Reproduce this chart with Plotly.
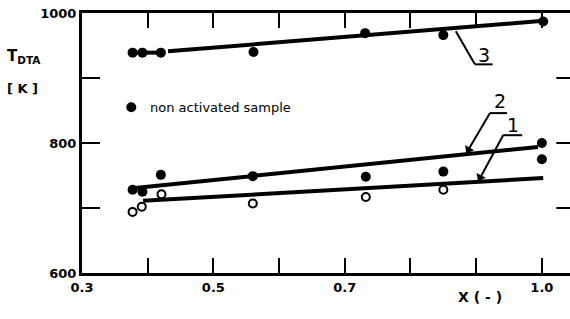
import plotly.graph_objects as go

# ---- data ----
# curve 3: non-activated sample (filled)
x3 = [0.377, 0.392, 0.420, 0.561, 0.731, 0.850, 1.002]
t3 = [939, 939, 939, 940, 969, 966, 987]
# curve 2: filled points
x2 = [0.377, 0.392, 0.420, 0.560, 0.732, 0.850, 1.000, 1.000]
t2 = [728, 725, 751, 749, 748, 756, 800, 775]
# curve 1: open points
x1 = [0.377, 0.391, 0.421, 0.560, 0.732, 0.850]
t1 = [694, 702, 721, 707, 717, 728]

# fitted lines
fit3_x = [0.431, 1.002]
fit3_t = [941, 988]
fit3_short_x = [0.377, 0.420]
fit3_short_t = [939, 939]
fit2_x = [0.373, 0.994]
fit2_t = [730, 794]
fit1_x = [0.393, 1.002]
fit1_t = [711, 746]

x_major = [0.3, 0.5, 0.7, 1.0]
x_labels = ["0.3", "0.5", "0.7", "1.0"]
x_minor = [0.4, 0.6, 0.8, 0.9]
y_major = [600, 800, 1000]
y_labels = ["600", "800", "1000"]
y_minor = [700, 900]

BLACK = "#000000"
FONT = "DejaVu Sans"

fig = go.Figure()

for xs, ts in [(fit3_x, fit3_t), (fit3_short_x, fit3_short_t), (fit2_x, fit2_t), (fit1_x, fit1_t)]:
    fig.add_trace(go.Scatter(x=xs, y=ts, mode="lines",
                             line=dict(color=BLACK, width=4), showlegend=False, hoverinfo="skip"))

fig.add_trace(go.Scatter(x=x3, y=t3, mode="markers",
                         marker=dict(symbol="circle", size=10, color=BLACK), showlegend=False))
fig.add_trace(go.Scatter(x=x2, y=t2, mode="markers",
                         marker=dict(symbol="circle", size=10, color=BLACK), showlegend=False))
fig.add_trace(go.Scatter(x=x1, y=t1, mode="markers",
                         marker=dict(symbol="circle-open", size=8, color=BLACK,
                                     line=dict(width=2, color=BLACK)), showlegend=False))

# legend marker
fig.add_trace(go.Scatter(x=[0.375], y=[855], mode="markers",
                         marker=dict(symbol="circle", size=10, color=BLACK), showlegend=False))

# arrowheads of the leader lines for labels 2 and 1
fig.add_trace(go.Scatter(x=[0.8883, 0.906], y=[790, 747], mode="markers",
                         marker=dict(symbol="triangle-up", size=9, color=BLACK,
                                     angle=[210, 207]),
                         showlegend=False, hoverinfo="skip"))

shapes = []
# right-side inward ticks
for yv in [700, 800, 900]:
    shapes.append(dict(type="line", xref="paper", yref="y", x0=0.972, x1=1.0, y0=yv, y1=yv,
                       line=dict(color=BLACK, width=2)))
# leader lines and underlines
leaders = [
    ((0.869, 972), (0.898, 921)),
    ((0.898, 921), (0.925, 921)),
    ((0.921, 846), (0.947, 846)),
    ((0.921, 846), (0.889, 791)),
    ((0.941, 812), (0.970, 812)),
    ((0.941, 812), (0.907, 748)),
]
for (a, b) in leaders:
    shapes.append(dict(type="line", xref="x", yref="y", x0=a[0], y0=a[1], x1=b[0], y1=b[1],
                       line=dict(color=BLACK, width=2)))

annotations = [
    dict(x=0.912, y=936, xref="x", yref="y", text="3", showarrow=False,
         font=dict(family=FONT, size=19, color=BLACK)),
    dict(x=0.936, y=864, xref="x", yref="y", text="2", showarrow=False,
         font=dict(family=FONT, size=19, color=BLACK)),
    dict(x=0.956, y=828, xref="x", yref="y", text="1", showarrow=False,
         font=dict(family=FONT, size=19, color=BLACK)),
    dict(x=0.401, y=855, xref="x", yref="y", xanchor="left", text="non activated sample",
         showarrow=False, font=dict(family=FONT, size=13, color=BLACK)),
    dict(x=-0.158, y=0.877, xref="paper", yref="paper", xanchor="left",
         text="T<sub>DTA</sub>", showarrow=False,
         font=dict(family=FONT, size=15, color=BLACK, weight="bold")),
    dict(x=-0.158, y=0.746, xref="paper", yref="paper", xanchor="left",
         text="[ K ]", showarrow=False,
         font=dict(family=FONT, size=13, color=BLACK, weight="bold")),
    dict(x=0.8156, y=-0.13, xref="paper", yref="paper", xanchor="center",
         text="X ( - )", showarrow=False,
         font=dict(family=FONT, size=14, color=BLACK, weight="bold")),
]

fig.update_layout(
    width=570, height=319,
    margin=dict(l=82, r=0, t=13, b=46),
    paper_bgcolor="white", plot_bgcolor="white",
    showlegend=False,
    shapes=shapes, annotations=annotations,
    xaxis=dict(range=[0.3, 1.0428], showgrid=False, zeroline=False,
               showline=True, linecolor=BLACK, linewidth=3, mirror="ticks",
               ticks="inside", ticklen=15, tickwidth=2, tickcolor=BLACK,
               tickvals=x_major, ticktext=x_labels,
               minor=dict(tickvals=x_minor, ticks="inside", ticklen=15, tickwidth=2,
                          tickcolor=BLACK, showgrid=False),
               tickfont=dict(family=FONT, size=13, color=BLACK, weight="bold")),
    yaxis=dict(range=[600, 1000], showgrid=False, zeroline=False,
               showline=True, linecolor=BLACK, linewidth=3,
               ticks="inside", ticklen=18, tickwidth=2, tickcolor=BLACK,
               tickvals=y_major, ticktext=y_labels,
               minor=dict(tickvals=y_minor, ticks="inside", ticklen=18, tickwidth=2,
                          tickcolor=BLACK, showgrid=False),
               tickfont=dict(family=FONT, size=13, color=BLACK, weight="bold")),
)

fig.write_html("out.html", config={"displayModeBar": False},
               post_script="document.body.style.margin='0';")
